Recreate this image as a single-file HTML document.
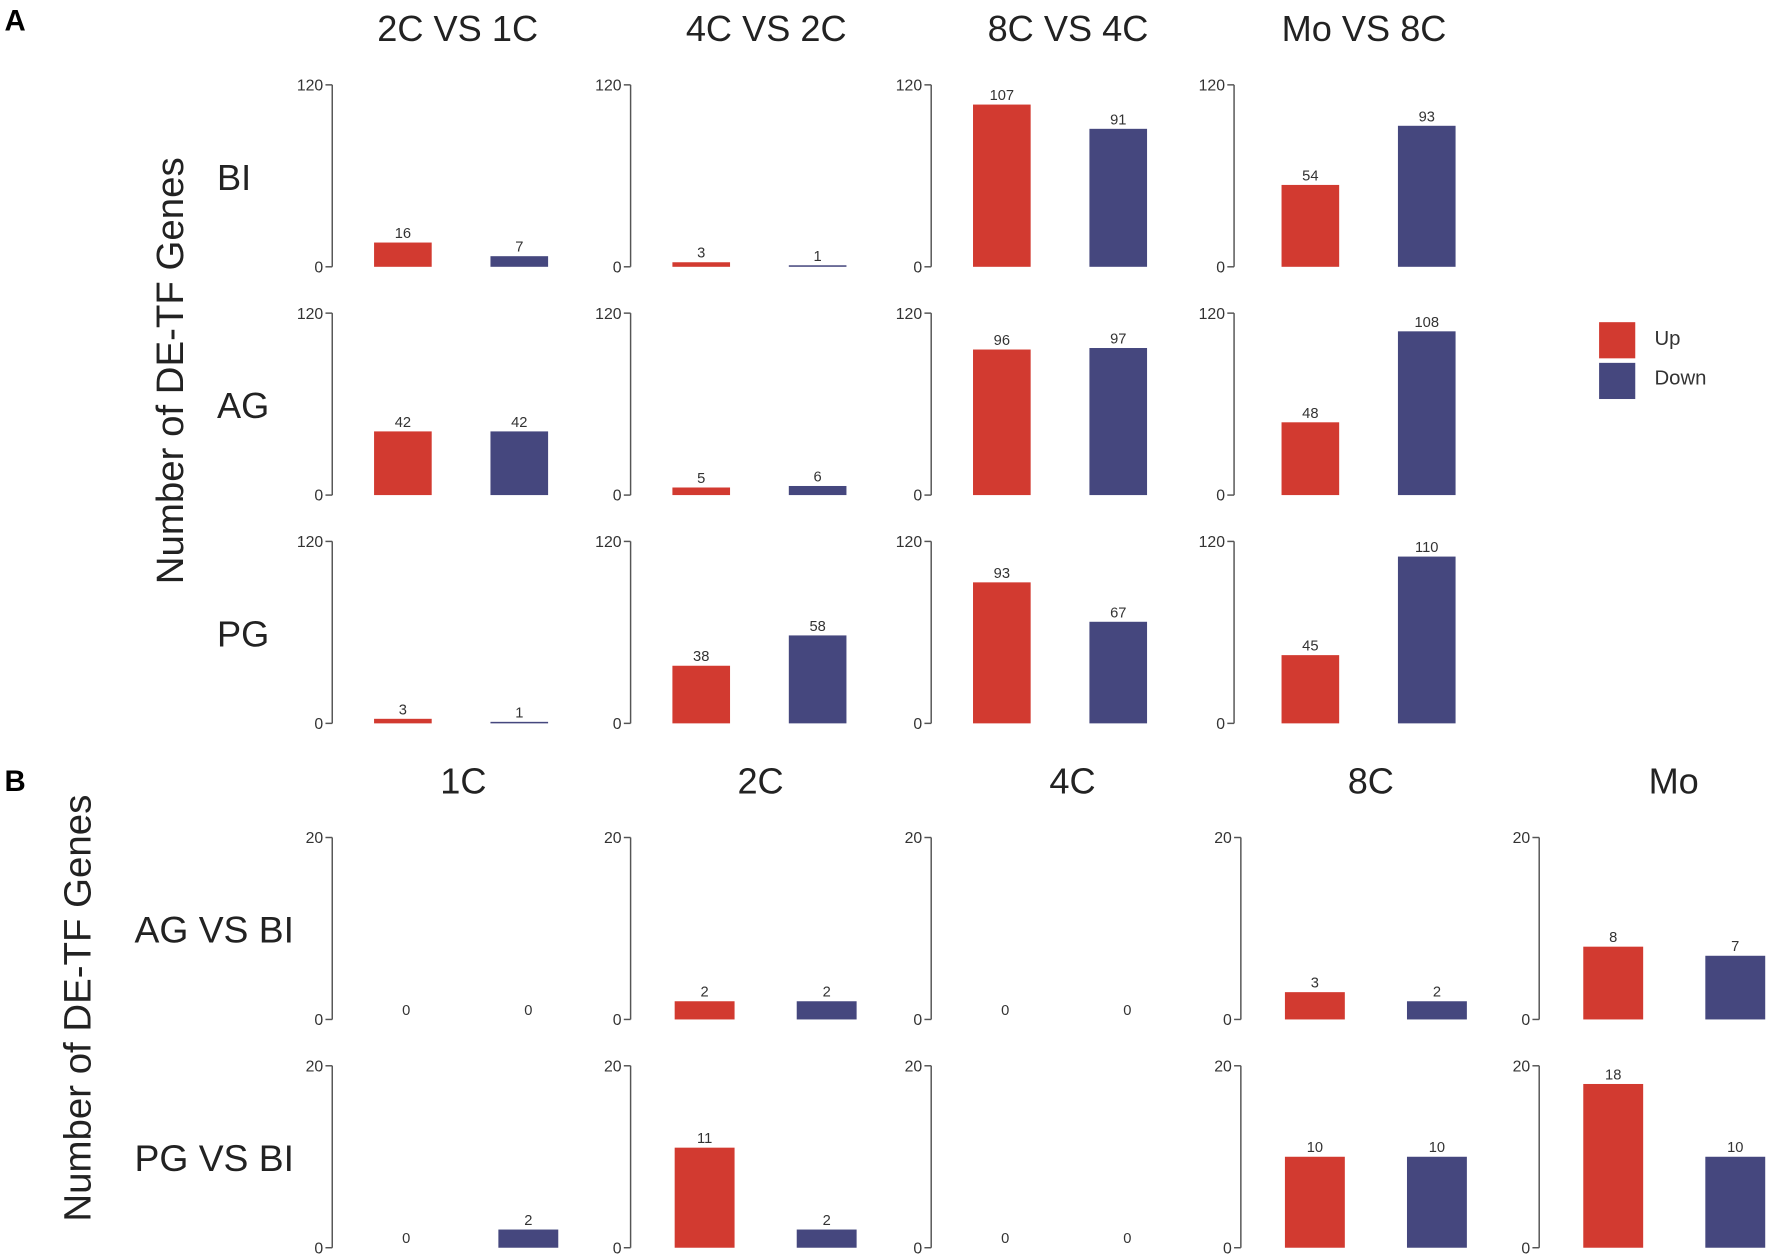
<!DOCTYPE html>
<html><head><meta charset="utf-8"><style>
html,body{margin:0;padding:0;background:#fff}
svg{display:block;font-family:"Liberation Sans",Arial,sans-serif}
</style></head><body>
<svg id="fig" width="1772" height="1258" viewBox="0 0 1568 1113" xmlns="http://www.w3.org/2000/svg"></svg>
<script>
const aCols = ["2C VS 1C","4C VS 2C","8C VS 4C","Mo VS 8C"];
const aRows = ["BI","AG","PG"];
const aUp = [[16,3,107,54],[42,5,96,48],[3,38,93,45]];
const aDown = [[7,1,91,93],[42,6,97,108],[1,58,67,110]];
const aTicks = [0,120];
const bCols = ["1C","2C","4C","8C","Mo"];
const bRows = ["AG VS BI","PG VS BI"];
const bUp = [[0,2,0,3,8],[0,11,0,10,18]];
const bDown = [[0,2,0,2,7],[2,2,0,10,10]];
const bTicks = [0,20];

const svg = document.getElementById('fig');
const NS = "http://www.w3.org/2000/svg";
const RED="#d23a30", BLUE="#45477e";
function mk(tag, attrs, parent){const e=document.createElementNS(NS,tag);for(const k in attrs)e.setAttribute(k,attrs[k]);(parent||svg).appendChild(e);return e;}
function txt(s, attrs, parent){const e=mk('text',attrs,parent);e.textContent=s;return e;}

function panel(ax, y0, h, maxV, ticks, up, down, bw, offR, offB, name){
  const g=mk('g',{});
  
  
  const yS = v => y0 - v/maxV*h;
  const axis=mk('line',{x1:ax,x2:ax,y1:yS(maxV),y2:y0,stroke:'#555','stroke-width':1.3},g);
  
  
  ticks.forEach(t=>{
    mk('line',{x1:ax-6,x2:ax,y1:yS(t),y2:yS(t),stroke:'#555','stroke-width':1.3},g);
    const tl=txt(String(t),{x:ax-8,y:yS(t)+5,'text-anchor':'end','font-size':14,fill:'#333'},g);
    
    
  });
  [[up,offR,RED,'bar-up'],[down,offB,BLUE,'bar-down']].forEach(([v,off,c,nm])=>{
    const x=ax+off;
    if(v>0){
      const r=mk('rect',{x:x,y:yS(v),width:bw,height:y0-yS(v),fill:c},g);
      
      
    }
    const l=txt(String(v),{x:x+bw/2,y:yS(v)-4,'text-anchor':'middle','font-size':13,fill:'#333'},g);
    
    
  });
}

// Panel A
let e=txt('A',{x:4,y:27,'font-size':26,'font-weight':'bold'});  
const aAx=[294,558,824,1092], aTitleX=[405,678,945,1207], aBase=[236,438,640];
aCols.forEach((c,i)=>{const t=txt(c,{x:aTitleX[i],y:36,'text-anchor':'middle','font-size':32,fill:'#222'});});
aRows.forEach((r,j)=>{
  const t=txt(r,{x:192,y:aBase[j]-68,'font-size':32,fill:'#222'});
  
  
  aCols.forEach((c,i)=>panel(aAx[i],aBase[j],161,120,aTicks,aUp[j][i],aDown[j][i],51,i==3?42:37,i==3?145:140,'panel-a-'+r+'-'+i));
});
e=txt('Number of DE-TF Genes',{x:0,y:0,'text-anchor':'middle','font-size':34,fill:'#222',transform:'translate(162,328) rotate(-90)'});
 
// legend
e=mk('rect',{x:1415,y:285,width:32,height:32,fill:RED});  
e=mk('rect',{x:1415,y:321,width:32,height:32,fill:BLUE});  
e=txt('Up',{x:1464,y:305,'font-size':18,fill:'#333'});  
e=txt('Down',{x:1464,y:340,'font-size':18,fill:'#333'});  

// Panel B
e=txt('B',{x:4,y:700,'font-size':26,'font-weight':'bold'});  
const bAx=[294,558,824,1098,1362], bTitleX=[410,673,949,1213,1481], bBase=[902,1104];
bCols.forEach((c,i)=>{const t=txt(c,{x:bTitleX[i],y:702,'text-anchor':'middle','font-size':32,fill:'#222'});});
bRows.forEach((r,j)=>{
  const t=txt(r,{x:119,y:bBase[j]-68,'font-size':33,fill:'#222'});
  
  
  bCols.forEach((c,i)=>panel(bAx[i],bBase[j],161,20,bTicks,bUp[j][i],bDown[j][i],53,39,147,'panel-b-'+j+'-'+i));
});
e=txt('Number of DE-TF Genes',{x:0,y:0,'text-anchor':'middle','font-size':34,fill:'#222',transform:'translate(80,892) rotate(-90)'});
 
</script>
</body></html>
